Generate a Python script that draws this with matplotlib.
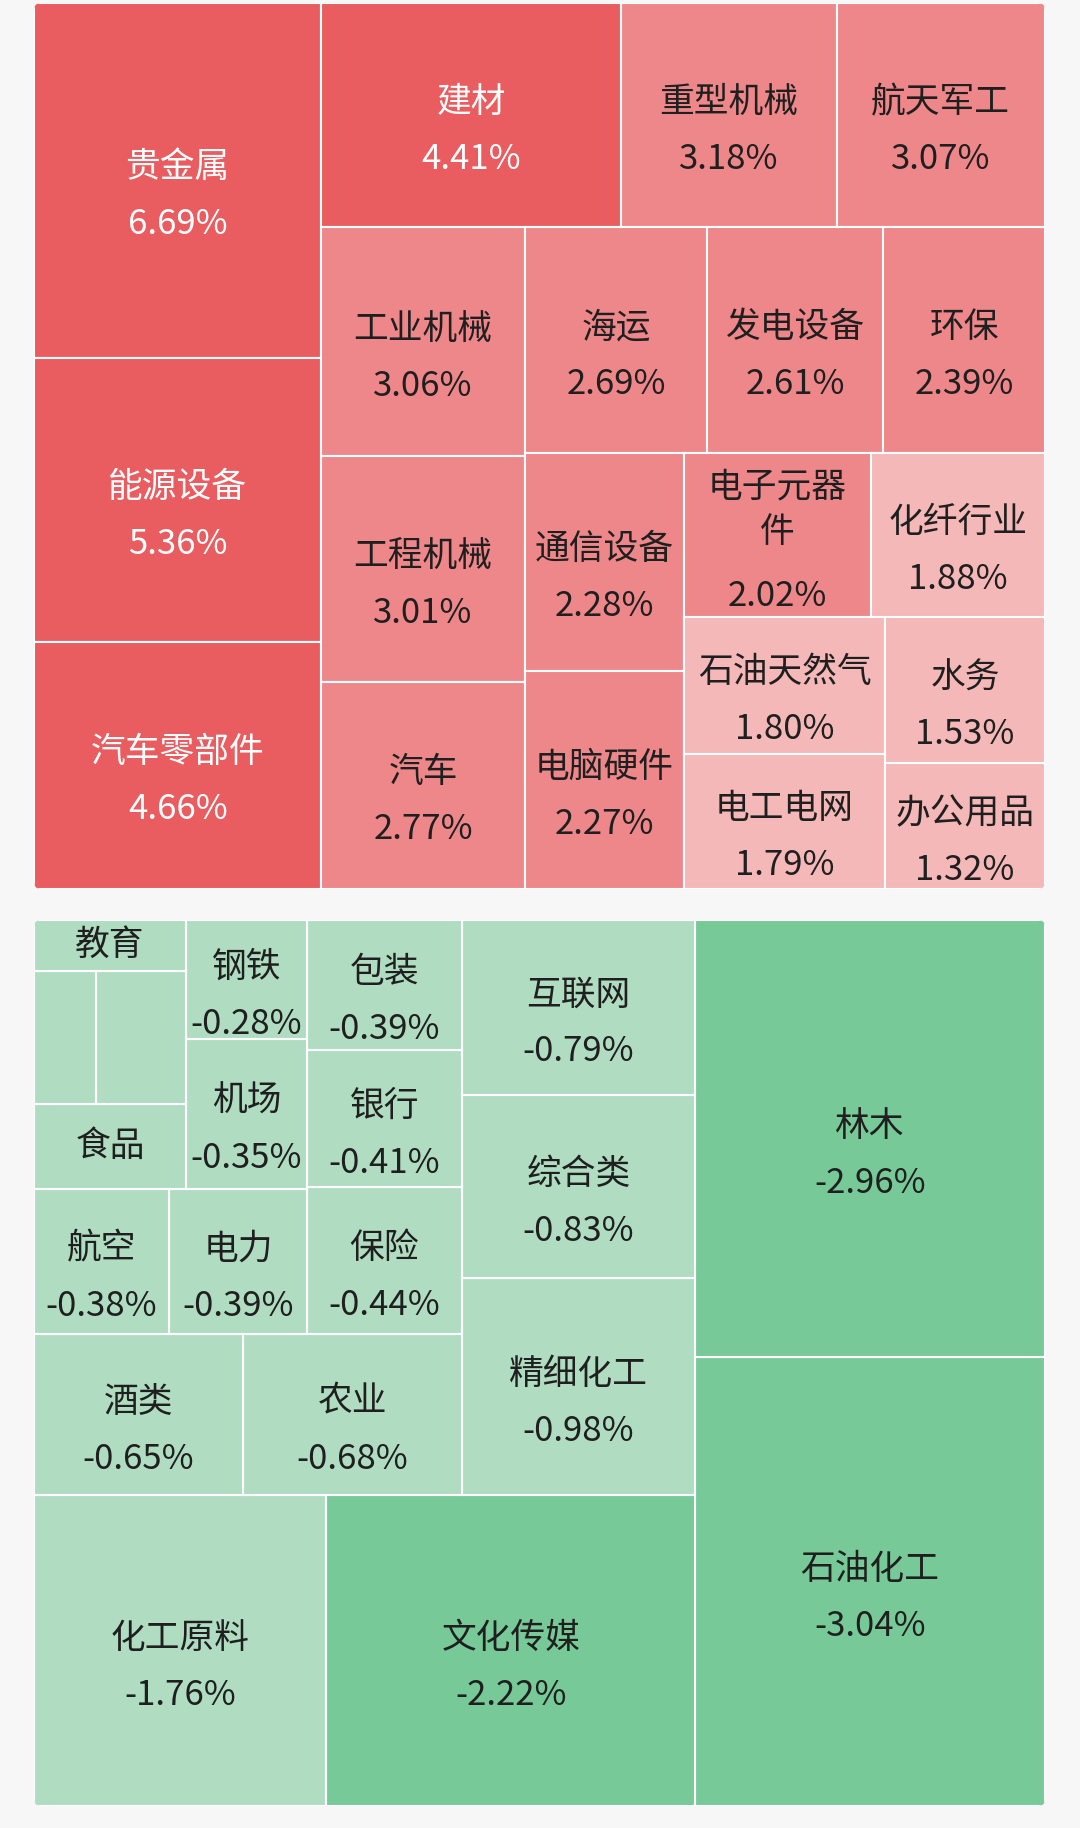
import matplotlib
matplotlib.use("Agg")
import matplotlib.pyplot as plt
from matplotlib.patches import Rectangle, FancyBboxPatch

plt.rcParams['font.family'] = ['Noto Sans CJK SC', 'DejaVu Sans']

# 上涨板块
up_names = ["贵金属", "能源设备", "汽车零部件", "建材", "重型机械", "航天军工",
            "工业机械", "工程机械", "汽车", "海运", "发电设备", "环保",
            "通信设备", "电脑硬件", "电子元器件", "化纤行业", "石油天然气",
            "电工电网", "水务", "办公用品"]
up_values = [6.69, 5.36, 4.66, 4.41, 3.18, 3.07, 3.06, 3.01, 2.77, 2.69,
             2.61, 2.39, 2.28, 2.27, 2.02, 1.88, 1.80, 1.79, 1.53, 1.32]

# 下跌板块 (最小的几个图里没有数字, 按面积估的)
down_names = ["石油化工", "林木", "文化传媒", "化工原料", "精细化工", "综合类",
              "互联网", "农业", "酒类", "保险", "银行", "包装", "电力", "航空",
              "机场", "钢铁", "食品", "", "", "教育"]
down_values = [-3.04, -2.96, -2.22, -1.76, -0.98, -0.83, -0.79, -0.68, -0.65,
               -0.44, -0.41, -0.39, -0.39, -0.38, -0.35, -0.28, -0.25, -0.23,
               -0.16, -0.15]

RATIO = 1.1
FS = 25
FS_PX = FS * 100 / 72
BG = "#f7f7f7"


def worst(row, side, ratio):
    s = sum(row)
    return max(ratio * side * side * max(row) / (s * s),
               s * s / (ratio * side * side * min(row)))


def squarify(areas, w, h, ratio=RATIO):
    """squarified treemap, lignes posées le long du côté court"""
    rects = []
    x0, y0 = 0.0, 0.0
    i, n = 0, len(areas)
    while i < n:
        side = min(w, h)
        horizontal = side == w
        row = [areas[i]]
        best = worst(row, side, ratio)
        j = i + 1
        while j < n:
            score = worst(row + [areas[j]], side, ratio)
            if score > best:
                break
            row.append(areas[j])
            best = score
            j += 1
        thick = sum(row) / side
        if j >= n:
            thick = h if horizontal else w
        pos = x0 if horizontal else y0
        for a in row:
            ln = a / thick
            if horizontal:
                rects.append((pos, y0, ln, thick))
            else:
                rects.append((x0, pos, thick, ln))
            pos += ln
        if horizontal:
            y0 += thick
            h -= thick
        else:
            x0 += thick
            w -= thick
        i = j
    return rects


def up_colour(v):
    if v >= 4:
        return "#e95c60", "white"
    if v >= 2:
        return "#ee878a", "#1f1f1f"
    return "#f4b8b8", "#1f1f1f"


def down_colour(v):
    if v <= -2:
        return "#78c998", "#1f1f1f"
    return "#b0ddc2", "#1f1f1f"


def label(ax, name, v, rx, ry, rw, rh, colour):
    if not name:
        return
    pad = 10
    per_line = max(1, int((rw - 2 * pad) // FS_PX))
    lines = [name[k:k + per_line] for k in range(0, len(name), per_line)]
    offs = [45 * k for k in range(len(lines))]
    wrapped = len(lines) > 1
    gap = 64 if wrapped else 57
    if offs[-1] + gap + 40 <= rh:
        offs.append(offs[-1] + gap)
        lines.append(f"{v:.2f}%")
        shift = 6.5 if wrapped else 16
    else:
        shift = 0
    mid = (offs[0] + offs[-1]) / 2
    cy = ry + rh / 2 + shift
    for s, o in zip(lines, offs):
        ax.text(rx + rw / 2, cy + o - mid, s, ha='center', va='center',
                fontsize=FS, color=colour)


def draw_panel(ax, names, values, x, y, w, h, colour_fn, flip=False):
    panel = FancyBboxPatch((x, y), w, h, boxstyle="round,pad=0,rounding_size=7",
                           facecolor='none', edgecolor='none')
    ax.add_patch(panel)
    mags = [abs(v) for v in values]
    total = sum(mags)
    areas = [m * w * h / total for m in mags]
    for name, v, (rx, ry, rw, rh) in zip(names, values, squarify(areas, w, h)):
        if flip:
            rx = w - rx - rw
            ry = h - ry - rh
        rx += x
        ry += y
        face, txt = colour_fn(v)
        r = Rectangle((rx, ry), rw, rh, facecolor=face, edgecolor='white',
                      linewidth=1.5)
        ax.add_patch(r)
        r.set_clip_path(panel)
        label(ax, name, v, rx, ry, rw, rh, txt)


fig = plt.figure(figsize=(10.8, 18.28), dpi=100, facecolor=BG)
ax = fig.add_axes([0, 0, 1, 1])
ax.set_xlim(0, 1080)
ax.set_ylim(1828, 0)
ax.axis('off')

draw_panel(ax, up_names, up_values, 34, 3, 1011, 886, up_colour)
draw_panel(ax, down_names, down_values, 34, 920, 1011, 886, down_colour, flip=True)

fig.savefig("out.png", dpi=100, facecolor=BG)
